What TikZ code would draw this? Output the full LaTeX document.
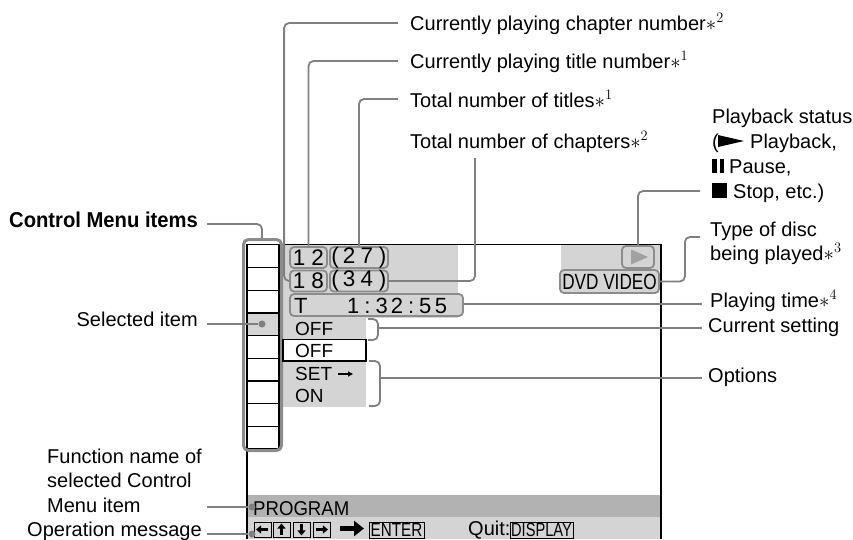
\documentclass[tikz,border=0pt]{standalone}
\usepackage{fontspec}
\setmainfont{Liberation Sans}
\usetikzlibrary{arrows.meta}
\definecolor{lg}{gray}{0.83}
\definecolor{dg}{gray}{0.70}
\definecolor{cg}{gray}{0.50}
\definecolor{fg}{gray}{0.55}
\definecolor{tg}{gray}{0.63}
\newcommand{\fs}[1]{\fontsize{#1}{#1}\selectfont}
\begin{document}
\begin{tikzpicture}[x=1pt,y=-1pt,
  lbl/.style={font=\fs{20}, inner sep=0pt, anchor=base west},
  lblr/.style={font=\fs{20}, inner sep=0pt, anchor=base east},
  conn/.style={draw=cg, line width=1.8pt, rounded corners=5pt},
  numbox/.style={draw=fg, line width=1.8pt, rounded corners=4pt, fill=lg, inner sep=0pt, font=\fs{22.5}},
  scr/.style={draw=black, line width=1.4pt},
  keybox/.style={draw=black, line width=0.9pt, fill=lg, minimum width=17pt, minimum height=15pt, inner sep=0pt},
  ktip/.style={line width=2.3pt, -{Triangle[length=5pt,width=8pt]}},
  stxt/.style={font=\fs{19}, inner sep=0pt, anchor=base west},
  dot/.style={fill=cg, circle, inner sep=0pt, minimum size=7pt},
]
\useasboundingbox (0,0) rectangle (853,539);
% ---- screen fills
\fill[lg] (283,245) rectangle (458,318);
\fill[lg] (283,318) rectangle (366,340);
\fill[lg] (283,361) rectangle (366,407);
\fill[lg] (561,245) rectangle (661,270);
\fill[dg] (247,495) rectangle (661,517);
\fill[lg] (247,517) rectangle (661,539);
\fill[lg] (247,313) rectangle (279,335.7);
% ---- screen borders
\draw[scr] (247,539) -- (247,244.5) -- (661,244.5) -- (661,539);
% ---- menu cells
\draw[black, line width=1.2pt] (279,245) -- (279,449);
\foreach \i in {1,...,9} \draw[black, line width=1.2pt] (247,{245+\i*22.67}) -- (279,{245+\i*22.67});
\node[draw=fg, line width=3pt, rounded corners=5pt, minimum width=38pt, minimum height=211pt, inner sep=0pt] (cmframe) at (262.5,345) {};
\node[dot] (seldot) at (262,324) {};
% ---- white OFF row
\node[draw=black, line width=1.2pt, fill=white, minimum width=83pt, minimum height=21.5pt, inner sep=0pt] (offbox) at (324.5,350.3) {};
% ---- number boxes
\node[numbox, minimum width=37pt, minimum height=21pt] (n12) at (308.5,257.5) {1\kern6pt 2};
\node[numbox, minimum width=58pt, minimum height=21pt] (n27) at (359,257.5) {(\kern4pt 2\kern5pt 7\kern6pt)};
\node[numbox, minimum width=37pt, minimum height=21pt] (n18) at (308.5,281) {1\kern6pt 8};
\node[numbox, minimum width=58pt, minimum height=21pt] (n34) at (359,281) {(\kern4pt 3\kern5pt 4\kern6pt)};
\node[numbox, minimum width=173pt, minimum height=22pt] (time) at (376.5,305) {};
\node[inner sep=0pt, anchor=base west, font=\fs{22}] (tT) at (294,313) {T};
\node[inner sep=0pt, anchor=base west, font=\fs{22}] (tdig) at (347,313) {1\kern5pt:\kern5pt 3\kern3pt 2\kern5pt:\kern5pt 5\kern3.5pt 5};
% ---- right status boxes
\node[numbox, minimum width=32pt, minimum height=22pt] (play) at (638,257) {};
\fill[tg] (631,249.5) -- (648,257) -- (631,264.5) -- cycle;
\node[numbox, minimum width=99pt, minimum height=23pt, font=\fs{22}] (dvd) at (609.5,281.5) {\scalebox{0.78}[1]{DVD VIDEO}};
% ---- setting texts
\node[stxt] (off1) at (295,335.5) {OFF};
\node[stxt] (off2) at (295,357.5) {OFF};
\node[stxt] (set) at (295,380.5) {SET};
\draw[line width=1.2pt, -{Triangle[length=5pt,width=5pt]}] (338,374) -- (353,374);
\node[stxt] (on) at (295,402.5) {ON};
% ---- bottom bars
\node[inner sep=0pt, anchor=base west, font=\fs{20}] (prog) at (253,515) {\scalebox{0.93}[1]{PROGRAM}};
\node[keybox] (k1) at (262.5,529.5) {};
\node[keybox] (k2) at (281.5,529.5) {};
\node[keybox] (k3) at (301.5,529.5) {};
\node[keybox] (k4) at (321.5,529.5) {};
\draw[ktip] ([xshift=-3pt]k1.east) -- ([xshift=2.5pt]k1.west);
\draw[ktip] ([yshift=2.5pt]k2.south) -- ([yshift=-2pt]k2.north);
\draw[ktip] ([yshift=-2.5pt]k3.north) -- ([yshift=2pt]k3.south);
\draw[ktip] ([xshift=3pt]k4.west) -- ([xshift=-2.5pt]k4.east);
\coordinate (bigA) at (340,528.5);
\coordinate (bigB) at (364,528.5);
\draw[line width=4.5pt, -{Triangle[length=10pt,width=15pt]}] (bigA) -- (bigB);
\node[draw=black, line width=0.9pt, fill=lg, minimum width=55pt, minimum height=16pt, inner sep=0pt, font=\fs{19}] (enter) at (396.5,530) {\scalebox{0.8}[1]{ENTER}};
\node[inner sep=0pt, anchor=base west, font=\fs{20}] (quit) at (468,535) {Quit:};
\node[draw=black, line width=0.9pt, fill=lg, minimum width=63pt, minimum height=16pt, inner sep=0pt, font=\fs{19}] (disp) at (541.5,530) {\scalebox{0.77}[1]{DISPLAY}};
% ---- top labels
\node[lbl] (lchap) at (410,30) {Currently playing chapter number$\ast^{2}$};
\node[lbl] (ltit) at (410,68) {Currently playing title number$\ast^{1}$};
\node[lbl] (ltot) at (410,107) {Total number of titles$\ast^{1}$};
\node[lbl] (ltch) at (410,148) {Total number of chapters$\ast^{2}$};
\coordinate (cchap) at (398,23);
\coordinate (ctit) at (398,61);
\coordinate (ctot) at (398,99);
\coordinate (ctch) at (475,158);
\draw[conn] (cchap) -| ([xshift=-5pt]n18.west) -- (n18.west);
\draw[conn] (ctit) -| (n12.north);
\draw[conn] (ctot) -| (n27.north);
\draw[conn] (ctch) |- (n34.east);
% ---- right labels
\node[lbl] (lpb1) at (712,123) {Playback status};
\node[lbl] (lpb2a) at (712,148) {(};
\fill (718,135) -- (744,141) -- (718,147) -- cycle;
\node[lbl] (lpb2) at (750,148) {Playback,};
\fill (712,158.5) rectangle (716.5,173);
\fill (719.5,158.5) rectangle (724,173);
\node[lbl] (lpb3) at (729,173) {Pause,};
\fill (712,183) rectangle (727,198);
\node[lbl] (lpb4) at (733,198) {Stop, etc.)};
\coordinate (cpb) at (700,191);
\draw[conn] (cpb) -| (play.north);
\node[lbl] (ldisc1) at (710,236) {Type of disc};
\node[lbl] (ldisc2) at (710,260) {being played$\ast^{3}$};
\coordinate (cdisc) at (700,237);
\draw[conn] (cdisc) -| ([xshift=25pt]dvd.east) -- (dvd.east);
\node[lbl] (lptime) at (710,307) {Playing time$\ast^{4}$};
\coordinate (cptime) at (702,304);
\draw[conn] (time.east |- cptime) -- (cptime);
\node[lbl] (lcur) at (708,332) {Current setting};
\coordinate (ccur) at (702,328);
\draw[conn] (368,319) -- (378,319) -- (378,340) -- (368,340);
\draw[conn] (378,328) -- (ccur);
\node[lbl] (lopt) at (708,382) {Options};
\coordinate (copt) at (702,378);
\draw[conn] (369,361) -- (380,361) -- (380,406) -- (369,406);
\draw[conn] (380,378) -- (copt);
% ---- left labels
\node[lblr, font=\fs{21.5}\bfseries] (lcmi) at (198,227) {\scalebox{0.94}[1]{Control Menu items}};
\coordinate (ccmi) at (207,224);
\draw[conn] (ccmi) -| (262,238);
\node[lblr] (lsel) at (198,326) {Selected item};
\coordinate (csel) at (207,324);
\draw[conn] (csel) -- (seldot);
\node[lbl] (lfn1) at (47,463) {Function name of};
\node[lbl] (lfn2) at (47,487) {selected Control};
\node[lbl] (lfn3) at (47,512) {Menu item};
\coordinate (cfn) at (207,507);
\node[dot] (fndot) at (252,507) {};
\draw[conn] (cfn) -- (fndot);
\node[lbl] (lop) at (27,536) {Operation message};
\coordinate (cop) at (207,534);
\node[dot] (opdot) at (252,534) {};
\draw[conn] (cop) -- (opdot);
\end{tikzpicture}
\end{document}
